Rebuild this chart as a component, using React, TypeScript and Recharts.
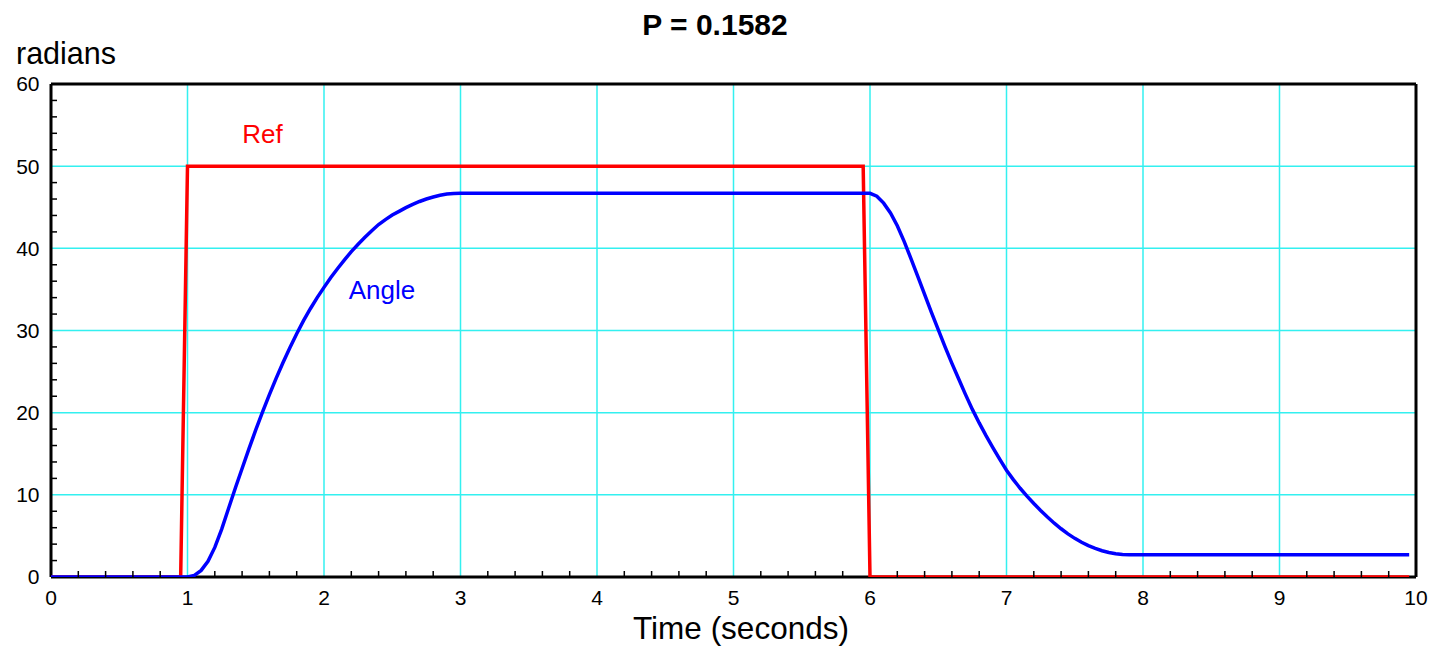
import React from 'react';
import { LineChart, Line, XAxis, YAxis, ReferenceLine, ReferenceDot } from 'recharts';

// ---- data ----
const refTimes = [0, 0.95, 1.0, 5.95, 6.0, 9.95];
const refValues = [0, 0, 50, 50, 0, 0];

const angleTimes = [
  0, 1.0, 1.05, 1.1, 1.15, 1.2, 1.25, 1.3, 1.35, 1.4, 1.45, 1.5, 1.55, 1.6, 1.65, 1.7, 1.75, 1.8,
  1.85, 1.9, 1.95, 2.0, 2.05, 2.1, 2.15, 2.2, 2.25, 2.3, 2.35, 2.4, 2.45, 2.5, 2.55, 2.6, 2.65,
  2.7, 2.75, 2.8, 2.85, 2.9, 2.95, 3.0, 6.0, 6.05, 6.1, 6.15, 6.2, 6.25, 6.3, 6.35, 6.4, 6.45,
  6.5, 6.55, 6.6, 6.65, 6.7, 6.75, 6.8, 6.85, 6.9, 6.95, 7.0, 7.05, 7.1, 7.15, 7.2, 7.25, 7.3,
  7.35, 7.4, 7.45, 7.5, 7.55, 7.6, 7.65, 7.7, 7.75, 7.8, 7.85, 7.9, 9.95,
];
const angleValues = [
  0, 0, 0.2, 0.8, 1.9, 3.6, 5.8, 8.3, 10.8, 13.2, 15.6, 17.9, 20.1, 22.2, 24.2, 26.1, 27.9, 29.6,
  31.2, 32.65, 34.0, 35.25, 36.45, 37.55, 38.6, 39.6, 40.5, 41.35, 42.15, 42.9, 43.5, 44.05, 44.5,
  44.95, 45.35, 45.7, 46.0, 46.25, 46.45, 46.6, 46.67, 46.7, 46.7, 46.35, 45.5, 44.3, 42.75, 40.85,
  38.75, 36.6, 34.4, 32.2, 30.1, 28.0, 26.0, 24.1, 22.2, 20.4, 18.75, 17.2, 15.75, 14.35, 13.0,
  11.85, 10.8, 9.85, 8.95, 8.1, 7.3, 6.55, 5.87, 5.25, 4.7, 4.22, 3.82, 3.48, 3.2, 2.98, 2.82,
  2.73, 2.7, 2.7,
];

const xMajorTicks = [0, 1, 2, 3, 4, 5, 6, 7, 8, 9, 10];
const yMajorTicks = [0, 10, 20, 30, 40, 50, 60];
const xGridLines = [1, 2, 3, 4, 5, 6, 7, 8, 9];
const yGridLines = [10, 20, 30, 40, 50];

const titleText = 'P = 0.1582';
const yTitle = 'radians';
const xTitle = 'Time (seconds)';
const refLabel = 'Ref';
const angleLabel = 'Angle';

// minor tick positions (every 0.2 s and every 2 rad)
const xAllTicks: number[] = [];
for (let i = 0; i <= 50; i++) xAllTicks.push(Math.round(i * 2) / 10);
const yAllTicks: number[] = [];
for (let i = 0; i <= 30; i++) yAllTicks.push(i * 2);

const refData = refTimes.map((t, i) => ({ t, v: refValues[i] }));
const angleData = angleTimes.map((t, i) => ({ t, v: angleValues[i] }));

const FONT = '"Liberation Sans", Arial, Helvetica, sans-serif';

const isMajor = (v: number, list: number[]) => list.some((m) => Math.abs(m - v) < 1e-6);

const XTick = (props: any) => {
  const { x, y, payload } = props;
  const v = payload.value;
  if (isMajor(v, xMajorTicks)) {
    return (
      <text x={x} y={y + 28} textAnchor="middle" fontSize={21} fontFamily={FONT} fill="#000">
        {v}
      </text>
    );
  }
  return <line x1={x} x2={x} y1={y} y2={y - 6} stroke="#000" strokeWidth={1.5} />;
};

const YTick = (props: any) => {
  const { x, y, payload } = props;
  const v = payload.value;
  if (isMajor(v, yMajorTicks)) {
    return (
      <text x={x - 11.5} y={y + 7.4} textAnchor="end" fontSize={21} fontFamily={FONT} fill="#000">
        {v}
      </text>
    );
  }
  return <line x1={x} x2={x + 6} y1={y} y2={y} stroke="#000" strokeWidth={1.5} />;
};

export default function App() {
  return (
    <div style={{ position: 'absolute', left: 0, top: 0, width: 1434, height: 647, background: '#fff' }}>
      <LineChart
        width={1434}
        height={647}
        margin={{ top: 84, right: 18, bottom: 30, left: 0 }}
        style={{ fontFamily: FONT }}
      >
        <XAxis
          type="number"
          dataKey="t"
          domain={[0, 10]}
          ticks={xAllTicks}
          interval={0}
          tick={<XTick />}
          tickSize={0}
          tickMargin={0}
          tickLine={false}
          axisLine={false}
          height={40}
          allowDataOverflow
        />
        <YAxis
          type="number"
          domain={[0, 60]}
          ticks={yAllTicks}
          interval={0}
          tick={<YTick />}
          tickSize={0}
          tickMargin={0}
          tickLine={false}
          axisLine={false}
          width={51}
          allowDataOverflow
        />
        {xGridLines.map((g) => (
          <ReferenceLine key={'gx' + g} x={g} stroke="#33F0F0" strokeWidth={1.5} zIndex={-100} />
        ))}
        {yGridLines.map((g) => (
          <ReferenceLine key={'gy' + g} y={g} stroke="#33F0F0" strokeWidth={1.5} zIndex={-100} />
        ))}
        <ReferenceLine y={60} stroke="#000" strokeWidth={3} zIndex={350} />
        <ReferenceLine x={10} stroke="#000" strokeWidth={3} zIndex={350} />
        <ReferenceLine y={0} stroke="#000" strokeWidth={3} zIndex={350} />
        <ReferenceLine x={0} stroke="#000" strokeWidth={3} zIndex={350} />
        <Line
          data={refData}
          dataKey="v"
          type="linear"
          stroke="#FF0000"
          strokeWidth={3.5}
          dot={false}
          isAnimationActive={false}
          zIndex={400}
        />
        <Line
          data={angleData}
          dataKey="v"
          type="linear"
          stroke="#0000FF"
          strokeWidth={3.5}
          dot={false}
          isAnimationActive={false}
          zIndex={410}
        />
        <ReferenceDot
          x={1.549}
          y={53.9}
          r={0}
          fill="none"
          stroke="none"
          label={{ value: refLabel, position: 'center', fill: '#FF0000', fontSize: 26, fontFamily: FONT }}
        />
        <ReferenceDot
          x={2.424}
          y={35.0}
          r={0}
          fill="none"
          stroke="none"
          label={{ value: angleLabel, position: 'center', fill: '#0000FF', fontSize: 26, fontFamily: FONT }}
        />
        <text x={715} y={35} textAnchor="middle" fontSize={30} fontWeight="bold" fontFamily={FONT} fill="#000">
          {titleText}
        </text>
        <text x={16} y={64} textAnchor="start" fontSize={30.5} fontFamily={FONT} fill="#000">
          {yTitle}
        </text>
        <text x={741} y={639} textAnchor="middle" fontSize={31.5} fontFamily={FONT} fill="#000">
          {xTitle}
        </text>
      </LineChart>
    </div>
  );
}
